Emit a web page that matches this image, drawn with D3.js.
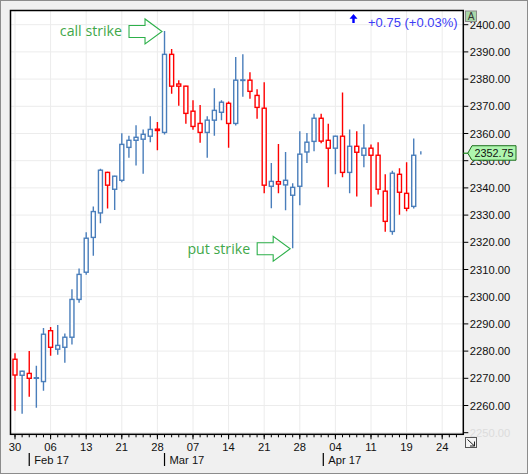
<!DOCTYPE html>
<html><head><meta charset="utf-8">
<script src="https://cdn.jsdelivr.net/npm/d3@7/dist/d3.min.js"></script>
<style>html,body{margin:0;padding:0;background:#f0f0f0;}svg{display:block;}</style>
</head><body>
<script>
const dates = ["Jan 30","Jan 31","Feb 1","Feb 2","Feb 3","Feb 6","Feb 7","Feb 8","Feb 9","Feb 10","Feb 13","Feb 14","Feb 15","Feb 16","Feb 17","Feb 21","Feb 22","Feb 23","Feb 24","Feb 27","Feb 28","Mar 1","Mar 2","Mar 3","Mar 6","Mar 7","Mar 8","Mar 9","Mar 10","Mar 13","Mar 14","Mar 15","Mar 16","Mar 17","Mar 20","Mar 21","Mar 22","Mar 23","Mar 24","Mar 27","Mar 28","Mar 29","Mar 30","Mar 31","Apr 3","Apr 4","Apr 5","Apr 6","Apr 7","Apr 10","Apr 11","Apr 12","Apr 13","Apr 17","Apr 18","Apr 19","Apr 20","Apr 21"];
const open  = [2277.0,2271.1,2271.8,2270.0,2268.8,2287.5,2280.7,2281.4,2285.1,2299.0,2309.0,2321.8,2330.8,2345.7,2339.5,2342.8,2354.9,2357.5,2357.9,2359.0,2361.6,2360.4,2389.1,2378.2,2377.4,2368.2,2363.7,2360.4,2364.9,2367.8,2371.1,2363.7,2379.5,2379.6,2374.0,2369.3,2340.6,2342.3,2341.1,2337.3,2340.6,2353.2,2357.1,2365.6,2357.5,2354.6,2359.0,2345.7,2355.3,2352.0,2354.6,2352.0,2338.8,2324.0,2345.0,2338.0,2333.2,2352.75];
const high  = [2279.2,2272.8,2280.0,2274.6,2288.5,2288.9,2289.6,2286.5,2302.7,2310.4,2323.7,2333.2,2347.0,2345.9,2344.5,2360.1,2359.2,2363.0,2361.5,2366.3,2364.2,2397.7,2391.1,2379.6,2377.6,2372.2,2370.5,2366.3,2376.6,2372.2,2371.8,2388.1,2389.1,2382.5,2376.3,2378.8,2349.2,2356.1,2353.2,2341.7,2360.8,2360.2,2367.3,2367.3,2363.6,2359.2,2375.1,2361.5,2360.8,2363.4,2356.0,2356.8,2345.0,2346.3,2347.2,2349.4,2358.2,2353.5];
const low   = [2258.1,2257.0,2263.2,2259.2,2265.4,2278.3,2278.7,2275.7,2282.4,2297.8,2308.1,2315.1,2327.0,2332.4,2331.9,2342.1,2351.1,2348.2,2345.2,2356.8,2353.8,2359.6,2374.6,2370.2,2363.6,2361.4,2356.6,2351.1,2359.2,2364.9,2354.8,2362.9,2373.5,2372.8,2365.4,2338.0,2332.5,2338.0,2331.8,2317.8,2333.6,2349.2,2353.5,2356.4,2340.2,2345.0,2343.9,2338.0,2336.8,2347.6,2333.1,2337.6,2323.9,2322.8,2330.1,2331.4,2332.4,2352.25];
const close = [2271.2,2272.6,2270.0,2270.2,2286.2,2281.4,2282.1,2285.1,2299.0,2308.2,2321.5,2331.3,2346.5,2341.0,2344.3,2356.0,2357.5,2358.6,2359.7,2361.5,2361.1,2389.1,2377.4,2377.4,2367.4,2362.6,2360.4,2364.9,2368.5,2371.5,2363.7,2379.6,2379.7,2375.5,2369.6,2341.0,2342.4,2341.4,2342.8,2340.2,2352.4,2356.8,2365.6,2357.2,2354.6,2359.0,2345.7,2355.3,2353.1,2354.6,2352.0,2339.5,2327.7,2345.4,2338.4,2332.5,2352.0,2352.75];
const dayTickLabels = ["30","06","13","21","28","07","14","21","28","04","11","19","24"];
const dayTickIndex  = [0,5,10,15,20,25,30,35,40,45,50,55,60];
const monthLabels = ["Feb 17","Mar 17","Apr 17"];
const monthIndex  = [2,21,43.3];
const priceTicks = d3.range(2250, 2401, 10);
const lastPrice = 2352.75;
const changeText = "+0.75 (+0.03%)";
const annotations = [{text:"call strike", idx:21, price:2397.7}, {text:"put strike", idx:39, price:2317.8}];

const W = 528, H = 474;
const plot = {l:10.5, t:10.5, r:463.3, b:434.3};
const FONT = "'Liberation Sans', Arial, sans-serif";
const UP = "#4a7ebb", DOWN = "#ff0000";

const x = d3.scaleLinear().domain([0, 60]).range([15, 442.2]);
const y = d3.scaleLinear().domain([2250, 2400]).range([432.7, 24.7]);

const svg = d3.select("body").append("svg").attr("width", W).attr("height", H);
svg.append("rect").attr("width", W).attr("height", H).attr("fill", "#f0f0f0");
svg.append("defs").append("clipPath").attr("id","pc").append("rect")
  .attr("x", plot.l).attr("y", plot.t).attr("width", plot.r-plot.l).attr("height", plot.b-plot.t);
svg.append("rect").attr("x", plot.l).attr("y", plot.t).attr("width", plot.r-plot.l).attr("height", plot.b-plot.t).attr("fill", "#fff");

const grid = svg.append("g").attr("clip-path","url(#pc)");
grid.selectAll("line.h").data(priceTicks).join("line").attr("class","h")
  .attr("x1", plot.l).attr("x2", plot.r).attr("y1", d=>y(d)).attr("y2", d=>y(d))
  .attr("stroke", "#ececec").attr("stroke-width", 1);
grid.selectAll("line.v").data(dayTickIndex).join("line").attr("class","v")
  .attr("x1", d=>x(d)).attr("x2", d=>x(d)).attr("y1", plot.t).attr("y2", plot.b)
  .attr("stroke", "#ececec").attr("stroke-width", 1);

// candles
const candles = dates.map((d,i)=>({d, i, o:open[i], h:high[i], l:low[i], c:close[i]}));
const cg = svg.append("g").attr("clip-path","url(#pc)");
const cgs = cg.selectAll("g").data(candles).join("g");
cgs.append("line").attr("x1", d=>x(d.i)).attr("x2", d=>x(d.i))
  .attr("y1", d=>y(d.h)).attr("y2", d=>y(d.l))
  .attr("stroke", d=>d.c>=d.o?UP:DOWN).attr("stroke-width", 1.4);
const bw = 4;
cgs.append("rect").attr("x", d=>x(d.i)-bw/2).attr("width", bw)
  .attr("y", d=>y(Math.max(d.o,d.c))).attr("height", d=>Math.abs(y(d.o)-y(d.c)))
  .attr("fill", "#fff").attr("stroke", d=>d.c>=d.o?UP:DOWN).attr("stroke-width", 1.4);

// frame
svg.append("rect").attr("x", plot.l).attr("y", plot.t).attr("width", plot.r-plot.l).attr("height", plot.b-plot.t)
  .attr("fill","none").attr("stroke","#000").attr("stroke-width",1.5);

// right axis
const ra = svg.append("g");
ra.selectAll("line").data(priceTicks).join("line")
  .attr("x1", plot.r).attr("x2", plot.r+5).attr("y1", d=>y(d)).attr("y2", d=>y(d))
  .attr("stroke","#000").attr("stroke-width",1);
ra.selectAll("text").data(priceTicks).join("text")
  .attr("x", plot.r+6.5).attr("y", d=>y(d)).attr("dy","0.36em")
  .attr("font-family", FONT).attr("font-size", 11.2)
  .attr("fill", d=>d===2250?"#dcdcdc":"#111").text(d=>d3.format(".2f")(d));

// bottom axis
const ba = svg.append("g");
const minor = d3.range(0, 64).filter(i=>x(i) <= plot.r);
ba.selectAll("line.mi").data(minor).join("line").attr("class","mi")
  .attr("x1", d=>x(d)).attr("x2", d=>x(d)).attr("y1", plot.b).attr("y2", plot.b+3)
  .attr("stroke","#000").attr("stroke-width",1);
ba.selectAll("line.ma").data(dayTickIndex).join("line").attr("class","ma")
  .attr("x1", d=>x(d)).attr("x2", d=>x(d)).attr("y1", plot.b).attr("y2", plot.b+5)
  .attr("stroke","#000").attr("stroke-width",1);
ba.selectAll("text.dl").data(dayTickLabels).join("text").attr("class","dl")
  .attr("x", (d,i)=>x(dayTickIndex[i])).attr("y", 451).attr("text-anchor","middle")
  .attr("font-family", FONT).attr("font-size", 11.2).attr("fill","#111").text(d=>d);
ba.selectAll("line.ms").data(monthIndex).join("line").attr("class","ms")
  .attr("x1", d=>x(d)).attr("x2", d=>x(d)).attr("y1", 453).attr("y2", 466)
  .attr("stroke","#000").attr("stroke-width",1.2);
ba.selectAll("text.ml").data(monthLabels).join("text").attr("class","ml")
  .attr("x", (d,i)=>x(monthIndex[i])+5).attr("y", 464)
  .attr("font-family", FONT).attr("font-size", 11.2).attr("fill","#111").text(d=>d);

// annotations
const GREEN = "#2db04a";
function arrow(tipX, tipY) {
  const p = [[tipX-33, tipY-6],[tipX-17, tipY-6],[tipX-17, tipY-12.5],[tipX, tipY],[tipX-17, tipY+12.5],[tipX-17, tipY+6],[tipX-33, tipY+6]];
  svg.append("path").attr("d", d3.line()(p)+"Z").attr("fill","none").attr("stroke",GREEN).attr("stroke-width",1.1);
}
annotations.forEach(a=>{
  const tx = x(a.idx) - 2.5, ty = y(a.price) + 0.5;
  arrow(tx, ty);
  svg.append("text").attr("x", tx-40).attr("y", ty+5).attr("text-anchor","end")
    .attr("font-family","'Open Sans', sans-serif").attr("font-size", 14.2).attr("fill","#3fa84a").text(a.text);
});

// last price tag
const py = y(lastPrice);
svg.append("line").attr("x1", plot.r).attr("x2", plot.r+5).attr("y1", py).attr("y2", py).attr("stroke","#1a8a1a").attr("stroke-width",1.2);
svg.append("path").attr("d", d3.line()([[plot.r+4.5,py],[472,py-7.5],[516,py-7.5],[516,py+7],[472,py+7]])+"Z")
  .attr("fill","#aef5ae").attr("stroke","#1c6e1c").attr("stroke-width",1);
svg.append("text").attr("x", 474.5).attr("y", py).attr("dy","0.36em")
  .attr("font-family", FONT).attr("font-size", 10.8).attr("fill","#111").text(d3.format(".2f")(lastPrice));

// header change
svg.append("path").attr("d","M353.5,14 L349.5,18.8 L352.3,18.8 L352.3,23 L354.7,23 L354.7,18.8 L357.5,18.8 Z").attr("fill","#0000ff");
svg.append("text").attr("x", 368).attr("y", 27).attr("font-family", FONT).attr("font-size", 13)
  .attr("fill","#3c3cf5").text(changeText);

// "A" box
svg.append("rect").attr("x",465.5).attr("y",11).attr("width",11).attr("height",10.5).attr("fill","#a9d8a9").attr("stroke","#8a8a8a").attr("stroke-width",1);
svg.append("text").attr("x",471).attr("y",20).attr("text-anchor","middle").attr("font-family",FONT).attr("font-size",10).attr("fill","#333").text("A");

// corner icon
svg.append("rect").attr("x",465.5).attr("y",437.5).attr("width",11).attr("height",10).attr("fill","#f4f4f4").attr("stroke","#555").attr("stroke-width",1);
svg.append("path").attr("d","M467.5,439.5 L474.5,446 M474.5,441.5 L474.5,446 L470,446").attr("fill","none").attr("stroke","#222").attr("stroke-width",1);

// outer border
svg.append("rect").attr("x",0.5).attr("y",0.5).attr("width",W-1).attr("height",H-1).attr("fill","none").attr("stroke","#8c8c8c").attr("stroke-width",1);
</script>
</body></html>
